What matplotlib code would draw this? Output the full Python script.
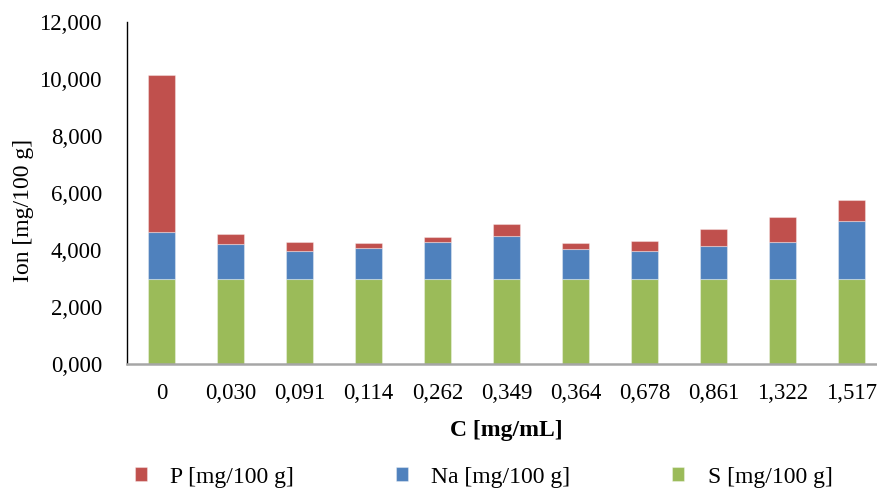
import matplotlib
matplotlib.use("Agg")
import matplotlib.pyplot as plt
from matplotlib.ticker import FuncFormatter, MultipleLocator

categories = ["0", "0,030", "0,091", "0,114", "0,262", "0,349", "0,364", "0,678", "0,861", "1,322", "1,517"]
S_vals = [3.00, 3.00, 3.00, 3.00, 3.00, 3.00, 3.00, 3.00, 3.00, 3.00, 3.00]
Na_vals = [1.64, 1.22, 0.98, 1.07, 1.27, 1.50, 1.02, 0.98, 1.15, 1.29, 2.03]
P_vals = [5.51, 0.33, 0.29, 0.16, 0.17, 0.42, 0.22, 0.35, 0.58, 0.86, 0.74]
series_names = ["P [mg/100 g]", "Na [mg/100 g]", "S [mg/100 g]"]

plt.rcParams['font.family'] = ['Liberation Serif', 'DejaVu Serif']

fig = plt.figure(figsize=(8.77, 4.91), dpi=100)
ax = fig.add_axes([127/877, 1-364/491, 759/877, (364-22)/491])

x = list(range(len(categories)))
w = 0.39
ec = (1, 1, 1, 0.35)
bS = ax.bar(x, S_vals, width=w, color="#9BBB59", edgecolor=ec, linewidth=0.8)
bNa = ax.bar(x, Na_vals, width=w, bottom=S_vals, color="#4F81BD", edgecolor=ec, linewidth=0.8)
bot2 = [s + n for s, n in zip(S_vals, Na_vals)]
bP = ax.bar(x, P_vals, width=w, bottom=bot2, color="#C0504D", edgecolor=ec, linewidth=0.8)

ax.set_xlim(-0.5, len(categories) - 0.5)
ax.set_ylim(0, 12)
ax.yaxis.set_major_locator(MultipleLocator(2))
ax.yaxis.set_major_formatter(FuncFormatter(lambda v, p: f"{v:.3f}".replace('.', ',')))
ax.set_xticks(x)
ax.set_xticklabels(categories)
ax.tick_params(axis='both', length=0, labelsize=16.5, colors='black')
ax.tick_params(axis='x', pad=14)
ax.tick_params(axis='y', pad=18)

for s in ['top', 'right']:
    ax.spines[s].set_visible(False)
ax.spines['left'].set_color('black')
ax.spines['left'].set_linewidth(1.0)
ax.spines['bottom'].set_color('#A6A6A6')
ax.spines['bottom'].set_linewidth(1.8)

ax.set_ylabel("Ion [mg/100 g]", fontsize=17)
ax.yaxis.set_label_coords(-0.1225, 0.45)
ax.set_xlabel("C [mg/mL]", fontsize=17, fontweight='bold', labelpad=11)

leg = fig.legend([bP, bNa, bS], series_names, loc='center', bbox_to_anchor=(483.5/877, 1-477/491),
                 ncol=3, frameon=False, fontsize=17, handlelength=0.51, handleheight=0.51,
                 columnspacing=4.3, handletextpad=1.0, borderpad=0.1)

fig.savefig("out.png", dpi=100)
